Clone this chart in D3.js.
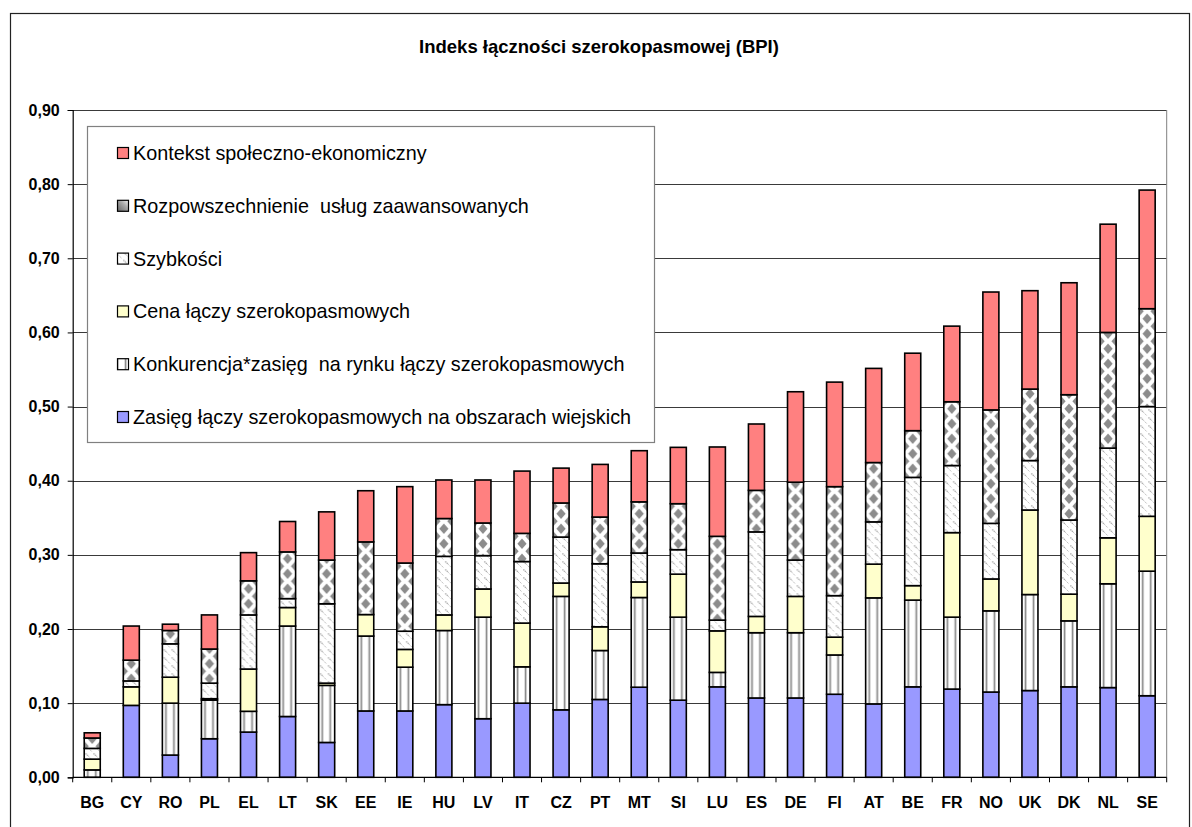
<!DOCTYPE html>
<html lang="pl">
<head>
<meta charset="UTF-8">
<title>Indeks łączności szerokopasmowej (BPI)</title>
<style>
  body { margin: 0; background: #fff; }
  text { font-family: Arial, "Liberation Sans", sans-serif; fill: #000; }
  .title { font-size: 18.5px; font-weight: bold; }
  .tick-label { font-size: 16px; font-weight: bold; }
  .legend-text { font-size: 19.8px; white-space: pre; }
</style>
</head>
<body>
<div id="chart"></div>
<script src="https://d3js.org/d3.v7.min.js"></script>
<script>
// categories and the six stacked components (bottom -> top)
const countries = ["BG","CY","RO","PL","EL","LT","SK","EE","IE","HU","LV","IT","CZ","PT","MT","SI","LU","ES","DE","FI","AT","BE","FR","NO","UK","DK","NL","SE"];

const zasieg      = [0,     0.097, 0.030, 0.052, 0.061, 0.082, 0.047, 0.0895, 0.0895, 0.098, 0.079, 0.100, 0.091, 0.105, 0.1215, 0.104, 0.122,  0.107,  0.107, 0.112, 0.099,  0.122,  0.119,  0.115,  0.117,  0.122, 0.121, 0.110];
const konkurencja = [0.010, 0,     0.070, 0.052, 0.028, 0.122, 0.077, 0.101,  0.059,  0.100, 0.137, 0.049, 0.153, 0.066, 0.121,  0.112, 0.0195, 0.088,  0.088, 0.053, 0.143,  0.117,  0.097,  0.1095, 0.1295, 0.089, 0.140, 0.168];
const cena        = [0.0145,0.025, 0.035, 0.002, 0.057, 0.025, 0.003, 0.029,  0.024,  0.021, 0.038, 0.059, 0.018, 0.032, 0.021,  0.058, 0.056,  0.022,  0.049, 0.024, 0.0455, 0.0195, 0.114,  0.043,  0.114,  0.036, 0.062, 0.074];
const szybkosci   = [0.0145,0.008, 0.045, 0.021, 0.073, 0.012, 0.107, 0,      0.0245, 0.079, 0.045, 0.083, 0.062, 0.085, 0.039,  0.033, 0.0145, 0.114,  0.049, 0.056, 0.057,  0.146,  0.0905, 0.075,  0.0667, 0.100, 0.121, 0.148];
const rozpowszech = [0.014, 0.028, 0.018, 0.046, 0.046, 0.063, 0.059, 0.098,  0.092,  0.051, 0.044, 0.038, 0.046, 0.063, 0.069,  0.062, 0.113,  0.056,  0.105, 0.147, 0.080,  0.063,  0.086,  0.153,  0.0964, 0.169, 0.156, 0.132];
const kontekst    = [0.007, 0.046, 0.0085,0.046, 0.038, 0.041, 0.065, 0.069,  0.103,  0.052, 0.058, 0.084, 0.047, 0.071, 0.069,  0.076, 0.1205, 0.0895, 0.122, 0.141, 0.127,  0.1045, 0.102,  0.159,  0.1327, 0.151, 0.146, 0.160];

const seriesNames = [
  "Zasięg łączy szerokopasmowych na obszarach wiejskich",
  "Konkurencja*zasięg  na rynku łączy szerokopasmowych",
  "Cena łączy szerokopasmowych",
  "Szybkości",
  "Rozpowszechnienie  usług zaawansowanych",
  "Kontekst społeczno-ekonomiczny"
];
const yTicks = [0, 0.1, 0.2, 0.3, 0.4, 0.5, 0.6, 0.7, 0.8, 0.9];

const keys = ["zasieg", "konkurencja", "cena", "szybkosci", "rozpowszech", "kontekst"];
const solid = { zasieg: "#9999ff", cena: "#ffffcc", kontekst: "#ff8080" };

const table = countries.map((c, i) => ({
  country: c,
  zasieg: zasieg[i], konkurencja: konkurencja[i], cena: cena[i],
  szybkosci: szybkosci[i], rozpowszech: rozpowszech[i], kontekst: kontekst[i]
}));

const W = 1192, H = 827;
const plotLeft = 72.7, plotRight = 1166.7, plotTop = 110, plotBottom = 777.3;

const svg = d3.select("#chart").append("svg")
  .attr("width", W).attr("height", H);

const x = d3.scaleBand().domain(countries).range([plotLeft, plotRight])
  .paddingInner(0.59).paddingOuter(0.295);
const y = d3.scaleLinear().domain([0, 0.9]).range([plotBottom, plotTop]);

// patterns, one set per bar so the motif lines up with each column
const defs = svg.append("defs");
function addPatterns(id, x0) {
  const pk = defs.append("pattern").attr("id", "konk-" + id)
    .attr("patternUnits", "userSpaceOnUse").attr("x", x0).attr("width", 8).attr("height", 4);
  pk.append("rect").attr("width", 8).attr("height", 4).attr("fill", "#fff");
  pk.append("rect").attr("x", 2).attr("width", 3).attr("height", 4).attr("fill", "#dcdcdc");
  pk.append("rect").attr("x", 3).attr("width", 1.2).attr("height", 4).attr("fill", "#8a8a8a");

  const ps = defs.append("pattern").attr("id", "szyb-" + id)
    .attr("patternUnits", "userSpaceOnUse").attr("x", x0).attr("width", 8).attr("height", 8);
  ps.append("rect").attr("width", 8).attr("height", 8).attr("fill", "#fff");
  ps.append("path").attr("d", "M1.5,1.5L4.5,4.5").attr("stroke", "#8c8c8c")
    .attr("stroke-width", 1.1).attr("stroke-dasharray", "1.2 0.7");
  ps.append("path").attr("d", "M5.5,5.5L7.5,7.5").attr("stroke", "#b4b4b4").attr("stroke-width", 0.8);

  const pr = defs.append("pattern").attr("id", "rozp-" + id)
    .attr("patternUnits", "userSpaceOnUse").attr("x", x0).attr("y", 0)
    .attr("width", 16).attr("height", 15);
  pr.append("rect").attr("width", 16).attr("height", 15).attr("fill", "#fff");
  [[8, 3.75], [8, 18.75], [0, 11.25], [16, 11.25], [0, -3.75], [16, -3.75]].forEach(([cx, cy]) => {
    pr.append("path")
      .attr("d", `M${cx},${cy - 5.2}L${cx + 4.6},${cy}L${cx},${cy + 5.2}L${cx - 4.6},${cy}Z`)
      .attr("fill", "#8c8c8c");
  });
}
countries.forEach(c => addPatterns(c, x(c)));
addPatterns("legend", 117);

const gr = defs.append("linearGradient").attr("id", "grad-rozp")
  .attr("x1", 0).attr("y1", 1).attr("x2", 1).attr("y2", 0);
gr.append("stop").attr("offset", "0%").attr("stop-color", "#666");
gr.append("stop").attr("offset", "60%").attr("stop-color", "#aaa");
gr.append("stop").attr("offset", "100%").attr("stop-color", "#f2f2f2");

function fillFor(key, id) {
  if (solid[key]) return solid[key];
  const pre = { konkurencja: "konk-", szybkosci: "szyb-", rozpowszech: "rozp-" }[key];
  return `url(#${pre}${id})`;
}

// outer frame
svg.append("rect")
  .attr("x", 10.5).attr("y", 13.5).attr("width", 1179).attr("height", 840)
  .attr("fill", "none").attr("stroke", "#222").attr("stroke-width", 1.2);

svg.append("text").attr("class", "title")
  .attr("x", 599).attr("y", 53).attr("text-anchor", "middle")
  .text("Indeks łączności szerokopasmowej (BPI)");

// gridlines
svg.append("g").selectAll("line").data(yTicks.slice(1)).join("line")
  .attr("x1", plotLeft).attr("x2", plotRight)
  .attr("y1", d => Math.round(y(d)) + 0.5).attr("y2", d => Math.round(y(d)) + 0.5)
  .attr("stroke", "#3a3a3a").attr("stroke-width", 1);

// right border of plot area
svg.append("line")
  .attr("x1", plotRight).attr("x2", plotRight).attr("y1", plotTop).attr("y2", plotBottom)
  .attr("stroke", "#808080").attr("stroke-width", 1);

// stacked bars
const stack = d3.stack().keys(keys)(table);
const layers = svg.append("g").selectAll("g").data(stack).join("g");
layers.selectAll("rect").data(d => d.filter(s => s[1] - s[0] > 0).map(s => ({ s, key: d.key }))).join("rect")
  .attr("x", d => x(d.s.data.country))
  .attr("width", x.bandwidth())
  .attr("y", d => y(d.s[1]))
  .attr("height", d => y(d.s[0]) - y(d.s[1]))
  .attr("fill", d => fillFor(d.key, d.s.data.country))
  .attr("stroke", "#000").attr("stroke-width", 1.6);

// y axis
const yAxis = svg.append("g").attr("transform", `translate(${plotLeft},0)`)
  .call(d3.axisLeft(y).tickValues(yTicks).tickSize(5).tickPadding(8)
    .tickFormat(d => d.toFixed(2).replace(".", ",")));
yAxis.attr("font-family", null).attr("font-size", null);
yAxis.select(".domain").attr("stroke", "#000").attr("stroke-width", 1.2);
yAxis.selectAll(".tick line").attr("stroke", "#000");
yAxis.selectAll(".tick text").attr("class", "tick-label");

// x axis with ticks between categories
svg.append("line").attr("x1", plotLeft).attr("x2", plotRight)
  .attr("y1", plotBottom).attr("y2", plotBottom).attr("stroke", "#000").attr("stroke-width", 1.2);
const boundaries = countries.map((c, i) => plotLeft + i * x.step()).concat([plotRight]);
svg.append("g").selectAll("line").data(boundaries).join("line")
  .attr("x1", d => d).attr("x2", d => d)
  .attr("y1", plotBottom).attr("y2", plotBottom + 5).attr("stroke", "#000");
svg.append("g").selectAll("text").data(countries).join("text")
  .attr("class", "tick-label")
  .attr("x", d => x(d) + x.bandwidth() / 2).attr("y", 807.5)
  .attr("text-anchor", "middle").text(d => d);

// legend
const lg = svg.append("g");
lg.append("rect").attr("x", 87.5).attr("y", 126.5).attr("width", 567).attr("height", 316)
  .attr("fill", "#fff").attr("stroke", "#808080").attr("stroke-width", 1.2);
const legendKeys = ["kontekst", "rozpowszech", "szybkosci", "cena", "konkurencja", "zasieg"];
const rows = lg.selectAll("g").data(legendKeys).join("g")
  .attr("transform", (d, i) => `translate(117,${153 + i * 52.8})`);
rows.append("rect").attr("x", 0.5).attr("y", -5.5).attr("width", 11).attr("height", 11)
  .attr("fill", d => d === "rozpowszech" ? "url(#grad-rozp)" : fillFor(d, "legend"))
  .attr("stroke", "#000").attr("stroke-width", 1.2);
rows.append("text").attr("class", "legend-text")
  .attr("x", 16).attr("y", 7)
  .text(d => seriesNames[keys.indexOf(d)]);
</script>
</body>
</html>
